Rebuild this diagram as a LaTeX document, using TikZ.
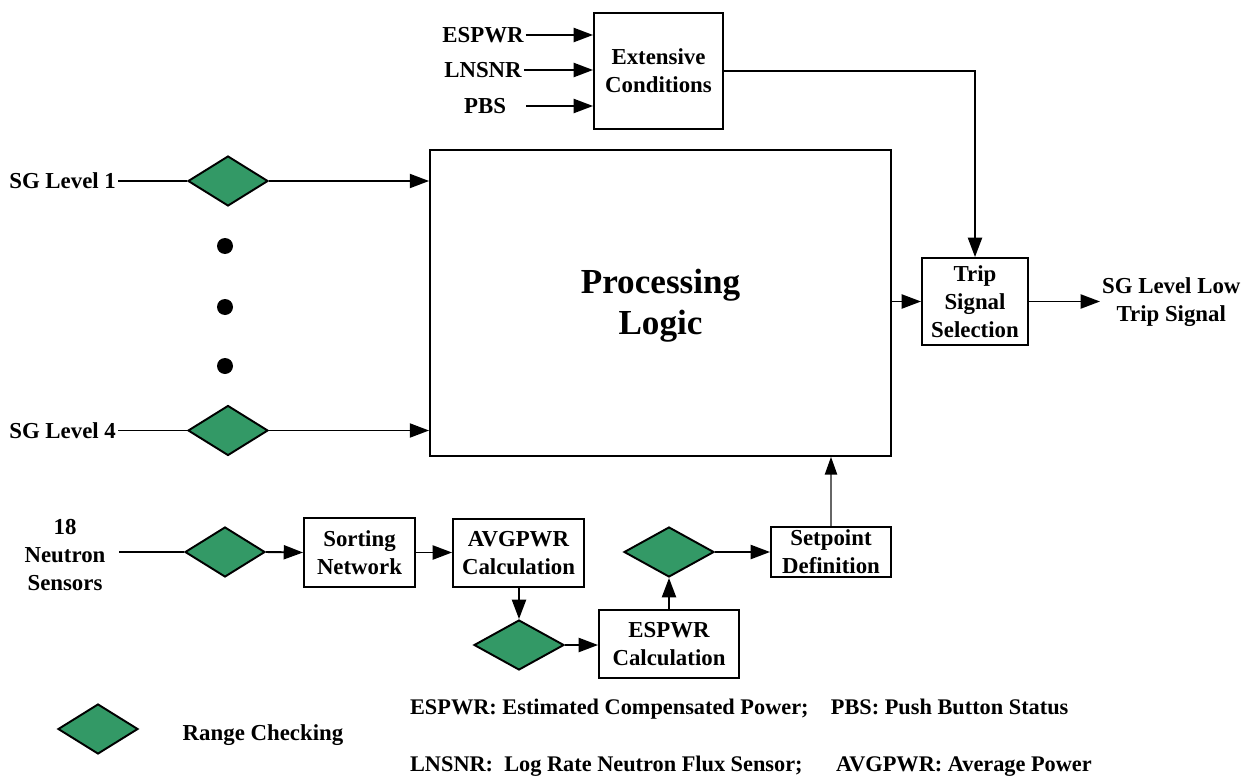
\documentclass[tikz,border=0pt]{standalone}
\usepackage{fontspec}
\setmainfont{Liberation Serif}
\usetikzlibrary{shapes.geometric,arrows.meta}

\definecolor{chkgreen}{RGB}{51,153,102}

\tikzset{
  blk/.style={draw, line width=1.1pt, fill=white, align=center, inner sep=0pt,
    font=\fontsize{13}{16}\selectfont\bfseries},
  chk/.style={diamond, draw, line width=1.1pt, fill=chkgreen, inner sep=0pt,
    minimum width=1.6cm, minimum height=1cm},
  lbl/.style={align=center, inner sep=1pt, font=\fontsize{13}{16}\selectfont\bfseries},
  wire/.style={line width=1.1pt},
  sig/.style={line width=1.1pt, -{Triangle[length=11pt,width=8pt]}},
}

\begin{document}
\begin{tikzpicture}[x=0.02cm,y=-0.02cm]
		\useasboundingbox (0,0) rectangle (1243,777);

		% Blocos principais
		\node[blk, minimum width=2.58cm, minimum height=2.32cm] (ext) at (658.5,71) {Extensive\\Conditions};
		\node[blk, minimum width=9.22cm, minimum height=6.12cm,
		      font=\fontsize{20}{24}\selectfont\bfseries] (proc) at (660.5,303) {\raisebox{-18pt}[0pt][0pt]{\shortstack{Processing\\[2pt]Logic}}};
		\node[blk, minimum width=2.12cm, minimum height=1.74cm] (trip) at (975,301.5) {Trip\\Signal\\Selection};

		% Cadeia dos sensores de neutrons
		\node[blk, minimum width=2.22cm, minimum height=1.38cm] (sort) at (359.5,552.5) {Sorting\\Network};
		\node[blk, minimum width=2.62cm, minimum height=1.36cm] (avg) at (518.5,553) {AVGPWR\\Calculation};
		\node[blk, minimum width=2.8cm, minimum height=1.36cm] (esp) at (669,644) {ESPWR\\Calculation};
		\node[blk, minimum width=2.4cm, minimum height=1cm] (setp) at (831,552) {Setpoint\\Definition};

		% Verificacao de faixa
		\node[chk] (chk1) at (228,181) {};
		\node[chk] (chk4) at (228,430.5) {};
		\node[chk] (chkn) at (225,552) {};
		\node[chk, minimum width=1.8cm] (chka) at (519,645) {};
		\node[chk, minimum width=1.8cm] (chke) at (669,552) {};

		% Entradas
		\node[lbl, anchor=east] (sg1) at (118,181) {SG Level 1};
		\node[lbl, anchor=east] (sg4) at (118,430.5) {SG Level 4};
		\node[lbl] (neut) at (65,555) {18\\Neutron\\Sensors};
		\coordinate (nin) at (119,552);
		\node[lbl] (espin) at (483,35) {ESPWR};
		\node[lbl] (lnsin) at (483,70) {LNSNR};
		\node[lbl] (pbsin) at (485,106) {PBS};
		\coordinate (pbsst) at (526,106);
		\node[lbl, anchor=west] (out) at (1100,302) {SG Level Low\\Trip Signal};

		% Pontos
		\foreach \y [count=\i] in {246,307,366}
			\node[circle, fill=black, inner sep=0pt, minimum size=0.32cm] (dot\i) at (225,\y) {};

		% Conexoes
		\draw[sig] (espin.east) -- (espin.east -| ext.west);
		\draw[sig] (lnsin.east) -- (lnsin.east -| ext.west);
		\draw[sig] (pbsst) -- (pbsst -| ext.west);
		\draw[sig] (ext.east) -| (trip.north);
		\draw[sig] (proc.east |- trip.west) -- (trip.west);
		\draw[sig] (trip.east) -- (trip.east -| out.west);

		\draw[wire] (sg1.east) -- (chk1.west);
		\draw[sig] (chk1.east) -- (chk1.east -| proc.west);
		\draw[wire] (sg4.east) -- (chk4.west);
		\draw[sig] (chk4.east) -- (chk4.east -| proc.west);

		\draw[wire] (nin) -- (chkn.west);
		\draw[sig] (chkn.east) -- (sort.west);
		\draw[sig] (sort.east) -- (sort.east -| avg.west);
		\draw[sig] (avg.south -| chka.north) -- (chka.north);
		\draw[sig] (chka.east) -- (chka.east -| esp.west);
		\draw[sig] (esp.north -| chke.south) -- (chke.south);
		\draw[sig] (chke.east) -- (setp.west);
		\draw[line width=0.6pt, draw=gray!80!black, -{Triangle[length=10pt,width=7pt,black]}] (setp.north) -- (setp.north |- proc.south);

		% Legenda
		\node[chk] (leg) at (98,729) {};
		\node[lbl] (legtxt) at (263,735) {Range Checking};
		\node[lbl, anchor=west, font=\fontsize{12.7}{15}\selectfont\bfseries] (abbr1) at (408,709) {ESPWR: Estimated Compensated Power;\quad PBS: Push Button Status};
		\node[lbl, anchor=west, font=\fontsize{12.7}{15}\selectfont\bfseries] (abbr2) at (408,766) {LNSNR:\ \ Log Rate Neutron Flux Sensor;\quad\ \ AVGPWR: Average Power};
	\end{tikzpicture}
\end{document}
